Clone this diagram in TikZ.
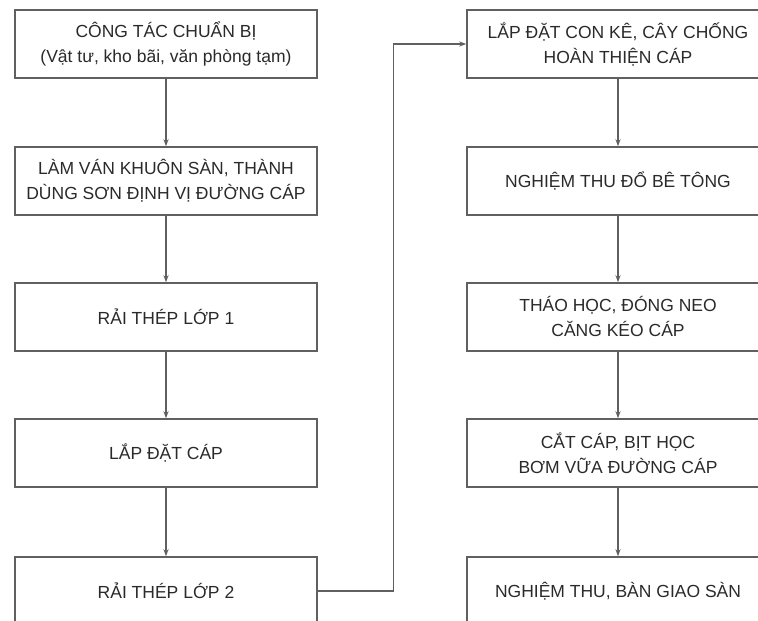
\documentclass[tikz,border=0pt]{standalone}
\usepackage{fontspec}
\setmainfont{Liberation Sans}
\usetikzlibrary{arrows.meta}
\definecolor{boxline}{HTML}{606060}
\definecolor{ink}{HTML}{2A2A2A}
\begin{document}
\begin{tikzpicture}[x=1pt,y=1pt,
  stepbox/.style={draw=boxline, line width=1.4pt, fill=white,
    minimum width=302pt, minimum height=68pt, inner sep=0pt,
    align=center, text=ink,
    font=\fontsize{17.5}{25}\selectfont},
  flow/.style={draw=boxline, line width=1.2pt,
    -{Stealth[length=7pt,width=5pt]}}]
\useasboundingbox (0,0) rectangle (758,621);
\fill[white] (0,0) rectangle (758,621);
\clip (0,0) rectangle (758,621);

% left column
\node[stepbox] (L1) at (166,577) {CÔNG TÁC CHUẨN BỊ\\(Vật tư, kho bãi, văn phòng tạm)};
\node[stepbox] (L2) at (166,440) {LÀM VÁN KHUÔN SÀN, THÀNH\\DÙNG SƠN ĐỊNH VỊ ĐƯỜNG CÁP};
\node[stepbox] (L3) at (166,304) {RẢI THÉP LỚP 1};
\node[stepbox] (L4) at (166,168) {LẮP ĐẶT CÁP};
\node[stepbox] (L5) at (166,30) {RẢI THÉP LỚP 2};

% right column
\node[stepbox] (R1) at (618,577) {LẮP ĐẶT CON KÊ, CÂY CHỐNG\\HOÀN THIỆN CÁP};
\node[stepbox] (R2) at (618,440) {NGHIỆM THU ĐỔ BÊ TÔNG};
\node[stepbox] (R3) at (618,304) {THÁO HỌC, ĐÓNG NEO\\CĂNG KÉO CÁP};
\node[stepbox] (R4) at (618,168) {CẮT CÁP, BỊT HỌC\\BƠM VỮA ĐƯỜNG CÁP};
\node[stepbox] (R5) at (618,30) {NGHIỆM THU, BÀN GIAO SÀN};

% vertical connectors
\draw[flow] (L1.south) -- (L2.north);
\draw[flow] (L2.south) -- (L3.north);
\draw[flow] (L3.south) -- (L4.north);
\draw[flow] (L4.south) -- (L5.north);
\draw[flow] (R1.south) -- (R2.north);
\draw[flow] (R2.south) -- (R3.north);
\draw[flow] (R3.south) -- (R4.north);
\draw[flow] (R4.south) -- (R5.north);

% link between the two columns
\coordinate (turn) at ([xshift=76pt]L5.east);
\draw[flow] (L5.east) -- (turn) |- (R1.west);
\end{tikzpicture}
\end{document}
